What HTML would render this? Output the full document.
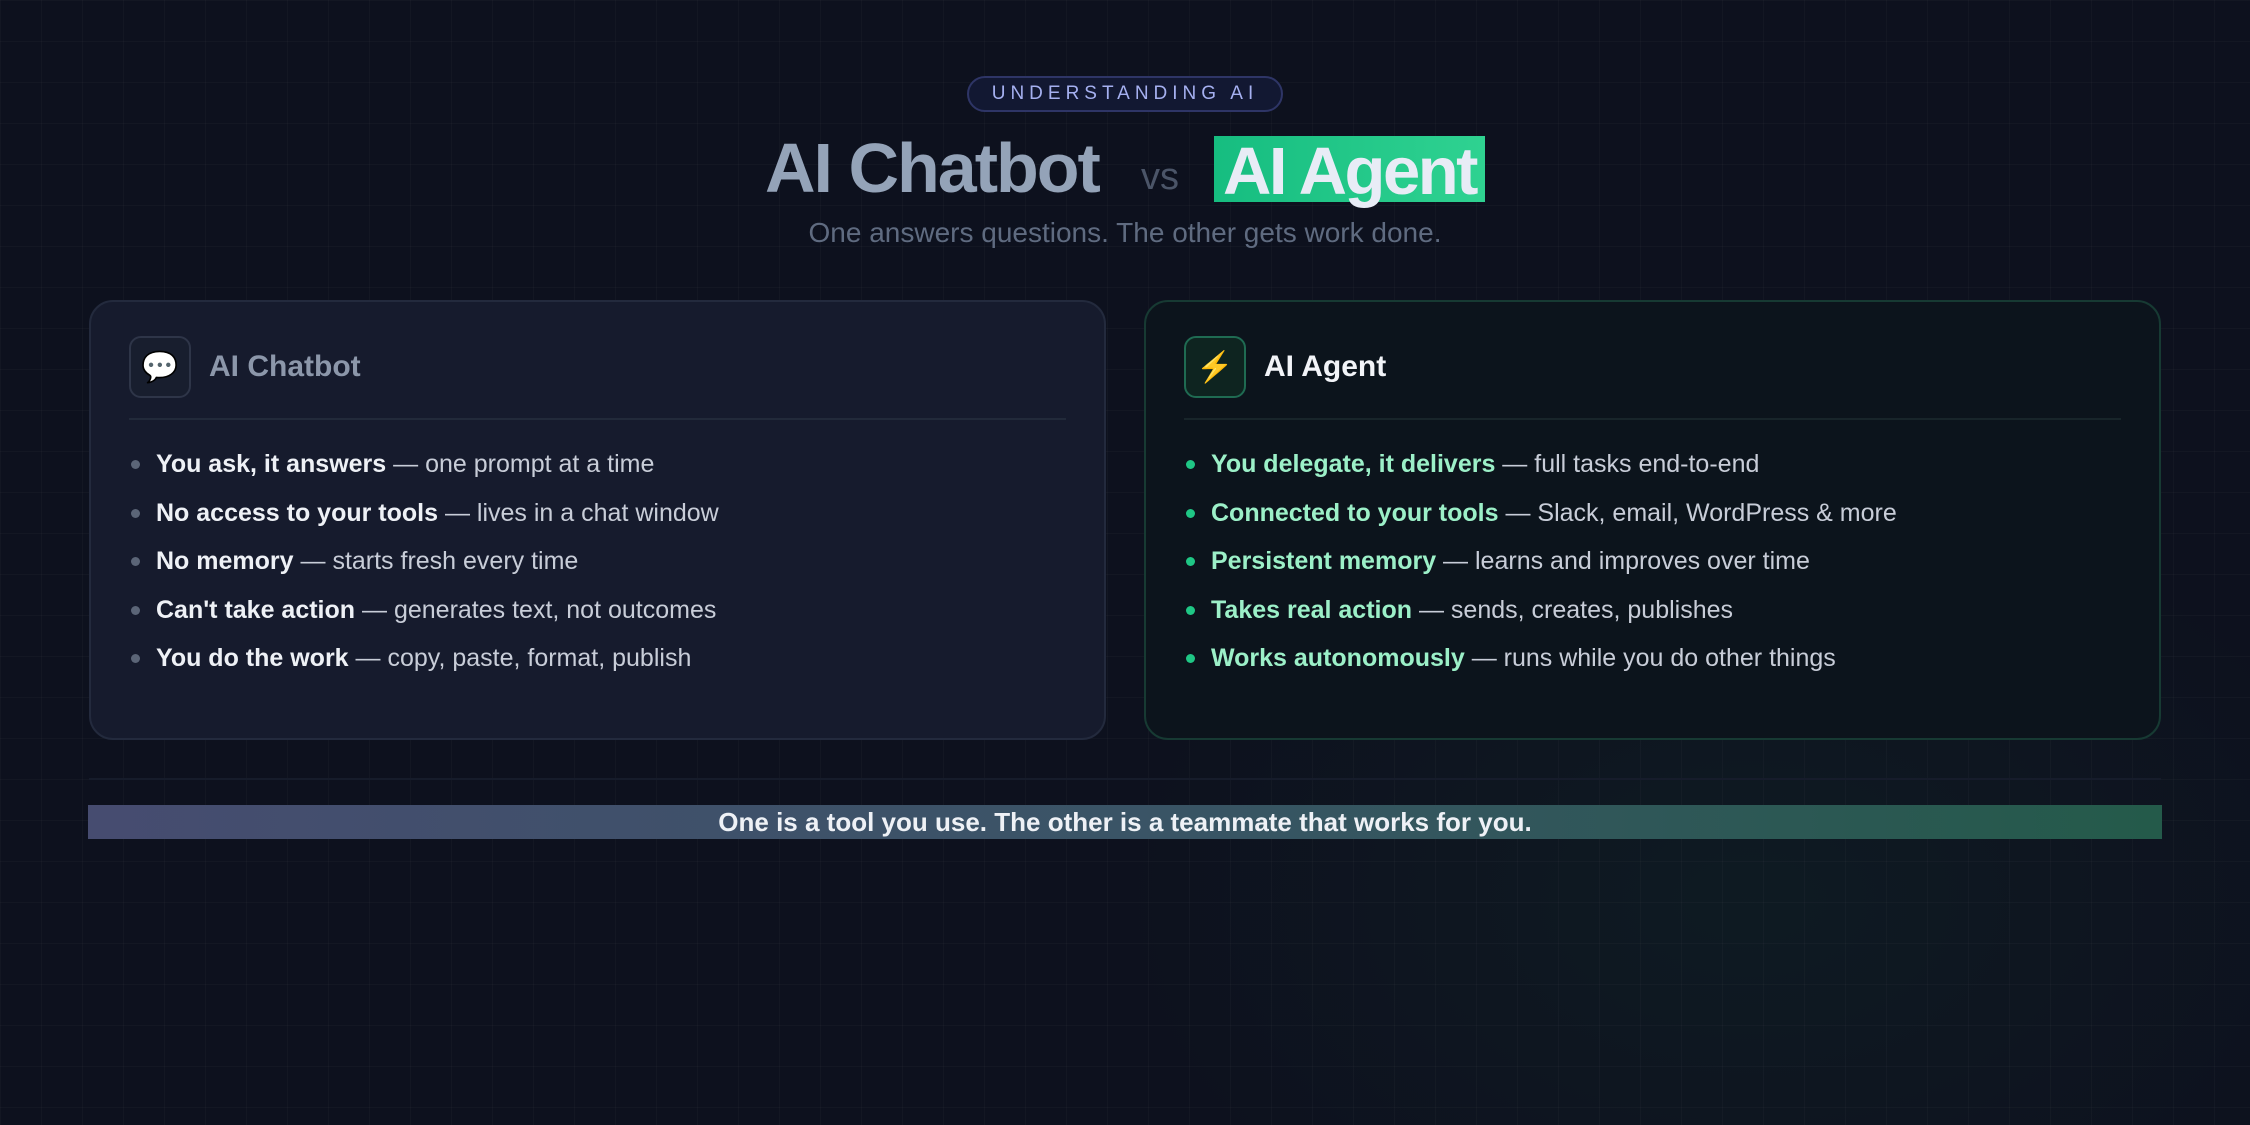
<!DOCTYPE html>
<html><head><meta charset="utf-8"><style>
*{margin:0;padding:0;box-sizing:border-box}
body{width:2250px;height:1125px;overflow:hidden;font-family:"Liberation Sans",sans-serif;
background:radial-gradient(ellipse 900px 600px at 1750px 900px,rgba(20,60,50,0.22),transparent 70%),#0d111e;position:relative}
.grid{position:absolute;inset:0;background-image:linear-gradient(rgba(255,255,255,0.022) 1px,transparent 1px),linear-gradient(90deg,rgba(255,255,255,0.022) 1px,transparent 1px);background-size:41px 41px}
.pill{position:absolute;left:967px;top:76px;width:316px;height:36px;border:2px solid #2e3566;border-radius:18px;background:#121832;color:#a5b0f0;font-size:19px;letter-spacing:5px;text-align:center;line-height:32px}
.title{position:absolute;top:128px;left:0;width:2250px;height:80px}
.t1{position:absolute;left:765px;top:0;font-size:70px;font-weight:bold;color:#94a3b8;letter-spacing:-2px;line-height:80px}
.vs{position:absolute;left:1141px;top:14px;font-size:38px;color:#4b5568;line-height:70px}
.t2{position:absolute;left:1214px;top:8px;width:271px;height:66px;background:linear-gradient(90deg,#16bd80,#2fd291);color:#e8ecf6;font-size:67px;font-weight:bold;letter-spacing:-2.5px;line-height:72px;text-align:center;white-space:nowrap}
.sub{position:absolute;top:217px;left:0;width:2250px;text-align:center;font-size:28px;color:#5f6b80}
.card{position:absolute;top:300px;width:1017px;height:440px;border-radius:24px}
.c1{left:89px;background:#161b2d;border:2px solid #232a3d}
.c2{left:1144px;background:#0c141c;border:2px solid #173a33}
.icon{position:absolute;left:38px;top:34px;width:62px;height:62px;border-radius:12px;font-size:30px;text-align:center;line-height:60px}
.c1 .icon{border:2px solid #2e3548;background:#181e2e}
.c2 .icon{border:2px solid #1f6b52;background:#0e2420}
.ct{position:absolute;left:118px;top:48px;font-size:30px;font-weight:bold}
.c1 .ct{color:#8c97aa}.c2 .ct{color:#f2f4f8}
.div{position:absolute;left:38px;right:38px;top:116px;height:2px;background:#222a3a}
.c2 .div{background:#18252a}
ul{position:absolute;left:40px;top:145px;list-style:none}
li{height:48.5px;font-size:25px;color:#c8cdd8;position:relative;padding-left:25px;line-height:34px}
li:before{content:"";position:absolute;left:0;top:13px;width:9px;height:9px;border-radius:50%}
.c1 li:before{background:#5b6577}.c2 li:before{background:#1fc785}
.c1 b{color:#eef1f6}.c2 b{color:#9cf0c8}
.hr{position:absolute;left:89px;top:778px;width:2072px;height:2px;background:#161c2b}
.ban{position:absolute;left:88px;top:805px;width:2074px;height:34px;background:linear-gradient(90deg,#464c70,#3a5466 50%,#245a4a);color:#eef1f6;font-size:26px;font-weight:bold;text-align:center;line-height:34px}
</style></head><body>
<div class="grid"></div>
<div class="pill">UNDERSTANDING AI</div>
<div class="title"><div class="t1">AI Chatbot</div><div class="vs">vs</div><div class="t2">AI Agent</div></div>
<div class="sub">One answers questions. The other gets work done.</div>
<div class="card c1"><div class="icon">💬</div><div class="ct">AI Chatbot</div><div class="div"></div>
<ul><li><b>You ask, it answers</b> — one prompt at a time</li>
<li><b>No access to your tools</b> — lives in a chat window</li>
<li><b>No memory</b> — starts fresh every time</li>
<li><b>Can't take action</b> — generates text, not outcomes</li>
<li><b>You do the work</b> — copy, paste, format, publish</li></ul></div>
<div class="card c2"><div class="icon">⚡</div><div class="ct">AI Agent</div><div class="div"></div>
<ul><li><b>You delegate, it delivers</b> — full tasks end-to-end</li>
<li><b>Connected to your tools</b> — Slack, email, WordPress &amp; more</li>
<li><b>Persistent memory</b> — learns and improves over time</li>
<li><b>Takes real action</b> — sends, creates, publishes</li>
<li><b>Works autonomously</b> — runs while you do other things</li></ul></div>
<div class="hr"></div>
<div class="ban">One is a tool you use. The other is a teammate that works for you.</div>
</body></html>
